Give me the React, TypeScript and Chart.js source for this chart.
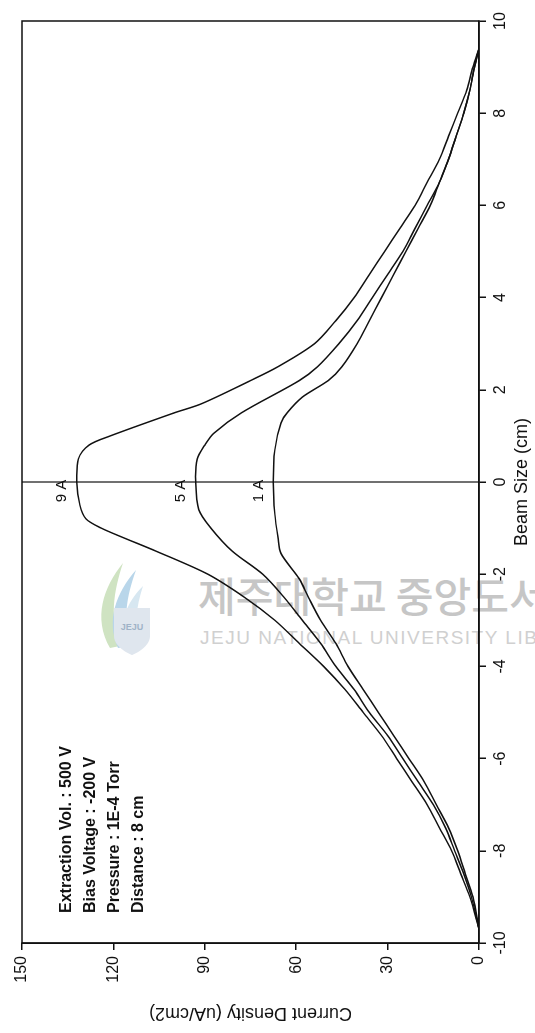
import React, { useEffect, useRef } from "react";
import { Chart, registerables } from "chart.js";

Chart.register(...registerables);

// ---- data (Beam Size in cm, Current Density in uA/cm2) ----
const beam9A = [-9.7, -9, -8.5, -8, -7.5, -7, -6.5, -6, -5.5, -5, -4.5, -4, -3.5, -3, -2.5, -2, -1.5, -1.2, -1, -0.8, -0.5, 0, 0.5, 0.8, 1, 1.5, 1.7, 2.2, 2.5, 3, 3.5, 4, 4.5, 5, 5.5, 6, 6.5, 7, 7.5, 8, 8.5, 9, 9.4];
const density9A = [0, 3, 6, 9, 13, 17, 22, 27, 32, 38, 44, 51, 59, 67, 77, 89, 106, 117, 124, 129, 131, 132, 131.5, 128, 121, 100, 91, 75, 66, 54, 47, 41, 36, 31, 26, 21, 17, 13, 10, 7, 4, 2, 0];

const beam5A = [-9.7, -9, -8.5, -8, -7.5, -7, -6.5, -6, -5.5, -5, -4.5, -4, -3.5, -3, -2.5, -2, -1.5, -1, -0.6, 0, 0.5, 0.8, 1.06, 1.5, 2.2, 2.5, 3, 3.5, 4, 4.5, 5, 5.5, 6, 6.5, 7, 7.5, 8, 8.5, 9, 9.4];
const density5A = [0, 2.5, 5, 8, 11, 15, 20, 25, 30, 36, 41, 47, 52, 58, 64, 71, 81, 88, 92, 93, 92.5, 90, 87, 78, 59, 53, 46, 40, 35, 30, 25, 21, 17, 13, 10, 7.5, 5, 3, 1.5, 0];

const beam1A = [-9.7, -9, -8.5, -8, -7.5, -7, -6.5, -6, -5.5, -5, -4.5, -4, -3.5, -3, -2.5, -2.1, -1.55, -1.2, -0.7, 0, 0.7, 1.28, 1.5, 1.84, 2.2, 2.5, 3, 3.5, 4, 4.5, 5, 5.5, 6, 6.5, 7, 7.5, 8, 8.5, 9, 9.4];
const density1A = [0, 2, 4.5, 7, 10, 14, 18, 23, 28, 33, 38, 43, 47, 52, 56, 59, 65, 66, 67, 67.5, 67, 65, 63, 58, 49.5, 45, 40, 36, 32, 28, 24, 20, 16, 13, 10, 7.5, 5, 3, 1.5, 0];

const seriesLabels = ["9 A", "5 A", "1 A"];
const seriesBeams = [beam9A, beam5A, beam1A];
const seriesDensities = [density9A, density5A, density1A];

const beamRange = [-10, 10];
const beamStep = 2;
const densityRange = [0, 150];
const densityStep = 30;

const xTitle = "Beam Size (cm)";
const yTitle = "Current Density (uA/cm2)";
const noteLines = [
  "Extraction Vol. : 500 V",
  "Bias Voltage : -200 V",
  "Pressure : 1E-4 Torr",
  "Distance : 8 cm",
];

const FONT = '"Liberation Sans", Arial, Helvetica, sans-serif';

const W = 1033;
const H = 535;

const overlayPlugin = {
  id: "overlay",
  afterDraw(chart: any) {
    const { ctx, chartArea: a, scales } = chart;
    const xs = scales.x;
    const ys = scales.y;
    ctx.save();
    ctx.strokeStyle = "#111";
    ctx.lineWidth = 1.5;
    ctx.strokeRect(a.left, a.top, a.right - a.left, a.bottom - a.top);

    const x0 = xs.getPixelForValue(0);
    ctx.lineWidth = 1.2;
    ctx.beginPath();
    ctx.moveTo(x0, a.top);
    ctx.lineTo(x0, a.bottom);
    ctx.stroke();

    ctx.fillStyle = "#111";
    ctx.font = `15px ${FONT}`;
    ctx.textAlign = "center";
    ctx.textBaseline = "bottom";
    seriesLabels.forEach((lbl, i) => {
      const peak = Math.max(...seriesDensities[i]);
      ctx.fillText(lbl, x0 - 9, ys.getPixelForValue(peak) - 7);
    });

    ctx.font = `bold 16px ${FONT}`;
    ctx.textAlign = "left";
    ctx.textBaseline = "middle";
    noteLines.forEach((t, i) => {
      ctx.fillText(t, a.left + 30, a.top + 45 + i * 24);
    });

    ctx.font = `18px ${FONT}`;
    ctx.textAlign = "center";
    ctx.textBaseline = "middle";
    ctx.fillText(xTitle, (a.left + a.right) / 2, a.bottom + 43);
    ctx.save();
    ctx.translate(a.left - 70, (a.top + a.bottom) / 2);
    ctx.rotate(-Math.PI / 2);
    ctx.fillText(yTitle, 0, 0);
    ctx.restore();

    ctx.restore();
  },
};

export default function App() {
  const canvasRef = useRef<HTMLCanvasElement | null>(null);

  useEffect(() => {
    if (!canvasRef.current) return;
    const datasets = seriesLabels.map((lbl, i) => ({
      label: lbl,
      data: seriesBeams[i].map((b, j) => ({ x: b, y: seriesDensities[i][j] })),
      borderColor: "#111",
      borderWidth: 1.5,
      pointRadius: 0,
      fill: false,
      tension: 0.3,
    }));
    const axisCommon = {
      border: { display: true, color: "#111", width: 1.5 },
      grid: {
        display: true,
        drawOnChartArea: false,
        drawTicks: true,
        tickLength: 7,
        color: "#111",
        lineWidth: 1.5,
      },
    };
    const chart = new Chart(canvasRef.current, {
      type: "line",
      data: { datasets },
      options: {
        animation: false,
        responsive: false,
        maintainAspectRatio: false,
        layout: { padding: { left: 0, top: 22, right: 21, bottom: 0 } },
        plugins: {
          legend: { display: false },
          tooltip: { enabled: false },
          title: { display: false },
        },
        scales: {
          x: {
            type: "linear",
            min: beamRange[0],
            max: beamRange[1],
            ...axisCommon,
            ticks: {
              stepSize: beamStep,
              color: "#111",
              padding: 5,
              maxRotation: 0,
              font: { family: FONT, size: 16 },
            },
            afterFit: (scale: any) => {
              scale.height = 56;
            },
          },
          y: {
            type: "linear",
            min: densityRange[0],
            max: densityRange[1],
            ...axisCommon,
            ticks: {
              stepSize: densityStep,
              color: "#111",
              padding: 6,
              font: { family: FONT, size: 16 },
            },
            afterFit: (scale: any) => {
              scale.width = 90;
            },
          },
        },
      },
      plugins: [overlayPlugin],
    });
    return () => chart.destroy();
  }, []);

  return (
    <div
      style={{
        position: "fixed",
        left: 0,
        top: 0,
        width: 535,
        height: 1033,
        overflow: "hidden",
        background: "#fff",
      }}
    >
      {/* library watermark */}
      <div style={{ position: "absolute", left: 0, top: 0, width: 535, height: 1033, pointerEvents: "none" }}>
        <svg width="70" height="100" style={{ position: "absolute", left: 88, top: 558 }}>
          <path d="M22 90 C5 60 15 30 35 5 C25 35 22 60 32 88 Z" fill="#cfe3c2" />
          <path d="M30 90 C18 62 28 35 48 12 C38 40 35 62 42 88 Z" fill="#b9d6ea" />
          <path d="M38 90 C30 66 38 45 55 28 C48 50 46 68 50 88 Z" fill="#d7e7f1" />
          <path d="M26 50 L62 50 L62 78 C62 90 44 97 44 97 C44 97 26 90 26 78 Z" fill="#dfe6ee" />
          <text x="44" y="72" fontSize="9" fill="#9fb3c8" textAnchor="middle" fontFamily="Liberation Sans, Arial" fontWeight="bold">JEJU</text>
        </svg>
        <div
          style={{
            position: "absolute",
            left: 198,
            top: 566,
            whiteSpace: "nowrap",
            fontFamily: '"Noto Sans CJK KR", sans-serif',
            fontSize: 41,
            fontWeight: 500,
            color: "#c6c6c6",
            lineHeight: "56px",
          }}
        >
          제주대학교 중앙도서관
        </div>
        <div
          style={{
            position: "absolute",
            left: 200,
            top: 626,
            whiteSpace: "nowrap",
            fontFamily: FONT,
            fontSize: 19,
            letterSpacing: 1.5,
            color: "#d0d0d0",
            lineHeight: "24px",
          }}
        >
          JEJU NATIONAL UNIVERSITY LIBRARY
        </div>
      </div>
      <div
        style={{
          position: "absolute",
          left: 0,
          top: 0,
          width: W,
          height: H,
          transformOrigin: "0 0",
          transform: `translate(0px, ${W}px) rotate(-90deg)`,
        }}
      >
        <canvas ref={canvasRef} width={W} height={H} style={{ display: "block" }} />
      </div>
    </div>
  );
}
